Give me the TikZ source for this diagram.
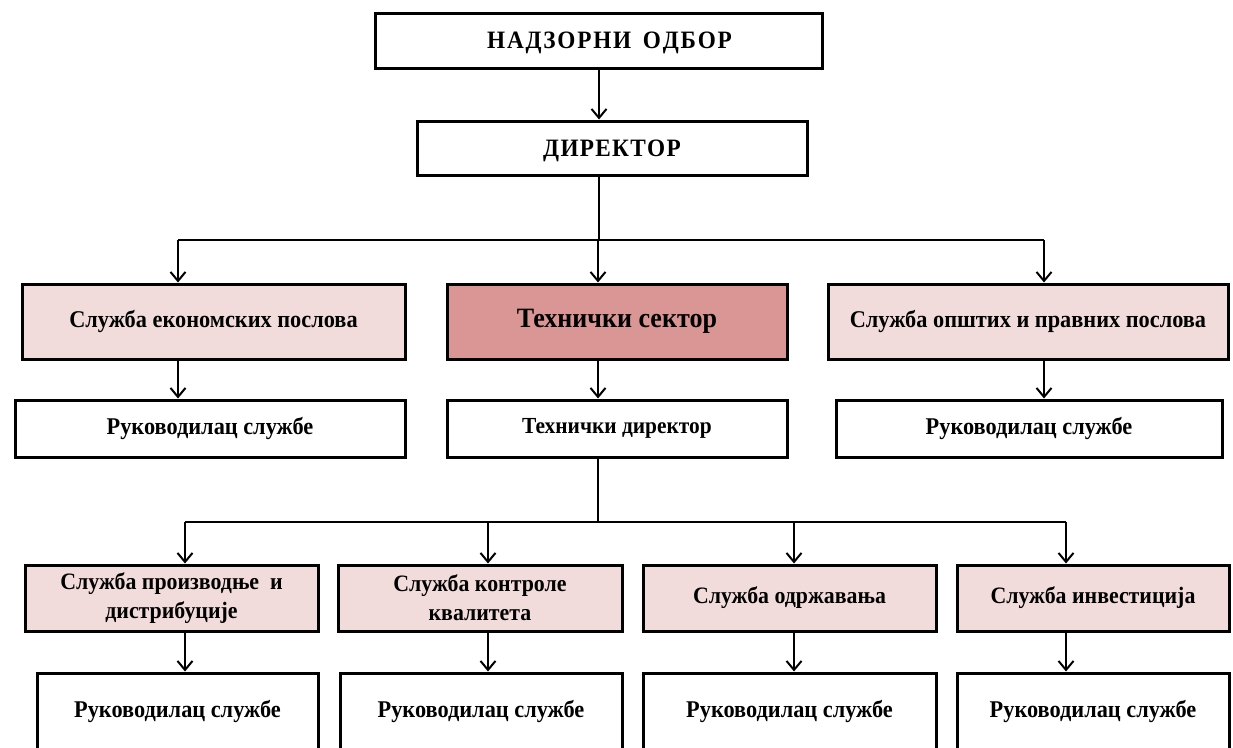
\documentclass[tikz,border=0pt]{standalone}
\usepackage{fontspec}
\setmainfont[FakeStretch=0.93]{Liberation Serif}
\usetikzlibrary{arrows.meta}
\definecolor{pinkL}{HTML}{F2DCDB}
\definecolor{pinkD}{HTML}{D99694}
\newcommand\lsp{\kern1.8pt}
\begin{document}
\begin{tikzpicture}[x=1pt,y=-1pt,
  box/.style={draw=black, line width=3pt, rectangle, inner sep=0pt, align=center,
              font=\bfseries\fontsize{24}{28}\selectfont},
  light/.style={box, fill=pinkL},
  dark/.style={box, fill=pinkD},
  plain/.style={box, fill=white},
  rowfour/.style={font=\bfseries\fontsize{23.5}{29}\selectfont},
  capstext/.style={font=\bfseries\fontsize{25}{28}\selectfont, text depth=0pt},
  conn/.style={line width=2pt, -{Straight Barb[length=9pt,width=15pt,line width=2pt]}},
  wire/.style={line width=2pt}]
\useasboundingbox (0,0) rectangle (1233,747);
\clip (0,0) rectangle (1233,747);
\fill[white] (0,0) rectangle (1233,747);

% columns and bars
\coordinate (cA) at (178,0);
\coordinate (cM) at (599,0);
\coordinate (cT) at (598,0);
\coordinate (cC) at (1044,0);
\coordinate (d1) at (185,0);
\coordinate (d2) at (488,0);
\coordinate (d3) at (794,0);
\coordinate (d4) at (1066,0);
\coordinate (bar1) at (0,240);
\coordinate (bar2) at (0,522);

% top
\node[plain, capstext, minimum width=447pt, minimum height=55pt] (nadzor) at (598.5,40.5)
  {\kern22pt Н\lsp А\lsp Д\lsp З\lsp О\lsp Р\lsp Н\lsp И\lsp\ \kern4pt О\lsp Д\lsp Б\lsp О\lsp Р};
\node[plain, capstext, minimum width=390pt, minimum height=54pt] (direktor) at (612,148)
  {Д\kern1.3pt И\kern1.3pt Р\kern1.3pt Е\kern1.3pt К\kern1.3pt Т\kern1.3pt О\kern1.3pt Р};

% row 2
\node[light, minimum width=383pt, minimum height=75pt] (econ) at (213.5,321.5) {Служба економских послова};
\node[dark, minimum width=340pt, minimum height=75pt, font=\bfseries\fontsize{28}{32}\selectfont] (tsec) at (617,321.5) {Технички сектор};
\node[light, minimum width=400pt, minimum height=75pt] (opst) at (1028,321.5) {Служба општих и правних послова};

% row 3
\node[plain, minimum width=390pt, minimum height=57pt] (ruk1) at (210,428.5) {Руководилац службе};
\node[plain, minimum width=340pt, minimum height=57pt, font=\bfseries\fontsize{23}{26}\selectfont] (tdir) at (617,428.5) {Технички директор};
\node[plain, minimum width=386pt, minimum height=57pt] (ruk3) at (1029,428.5) {Руководилац службе};

% row 4
\node[light, rowfour, minimum width=293pt, minimum height=66pt] (prod) at (171.5,598) {Служба производње\ \ и\\дистрибуције};
\node[light, rowfour, minimum width=284pt, minimum height=66pt] (kontr) at (480,598) {Служба контроле\\квалитета};
\node[light, rowfour, minimum width=293pt, minimum height=66pt] (odrz) at (789.5,598) {Служба одржавања};
\node[light, rowfour, minimum width=272pt, minimum height=66pt] (inv) at (1093,598) {Служба инвестиција};

% row 5
\node[plain, minimum width=281pt, minimum height=77pt] (r5a) at (177.5,711.5) {Руководилац службе};
\node[plain, minimum width=282pt, minimum height=77pt] (r5b) at (481,711.5) {Руководилац службе};
\node[plain, minimum width=293pt, minimum height=77pt] (r5c) at (789.5,711.5) {Руководилац службе};
\node[plain, minimum width=272pt, minimum height=77pt] (r5d) at (1093,711.5) {Руководилац службе};

% connectors top
\draw[conn] (nadzor.south -| cM) -- (direktor.north -| cM);
\draw[wire] (direktor.south -| cM) -- (bar1 -| cM);
\draw[wire] (bar1 -| cA) -- (bar1 -| cC);
\draw[conn] (bar1 -| cA) -- (econ.north -| cA);
\draw[conn] (bar1 -| cT) -- (tsec.north -| cT);
\draw[conn] (bar1 -| cC) -- (opst.north -| cC);

\draw[conn] (econ.south -| cA) -- (ruk1.north -| cA);
\draw[conn] (tsec.south -| cT) -- (tdir.north -| cT);
\draw[conn] (opst.south -| cC) -- (ruk3.north -| cC);

% lower tree
\draw[wire] (tdir.south -| cT) -- (bar2 -| cT);
\draw[wire] (bar2 -| d1) -- (bar2 -| d4);
\draw[conn] (bar2 -| d1) -- (prod.north -| d1);
\draw[conn] (bar2 -| d2) -- (kontr.north -| d2);
\draw[conn] (bar2 -| d3) -- (odrz.north -| d3);
\draw[conn] (bar2 -| d4) -- (inv.north -| d4);

\draw[conn] (prod.south -| d1) -- (r5a.north -| d1);
\draw[conn] (kontr.south -| d2) -- (r5b.north -| d2);
\draw[conn] (odrz.south -| d3) -- (r5c.north -| d3);
\draw[conn] (inv.south -| d4) -- (r5d.north -| d4);
\end{tikzpicture}
\end{document}
